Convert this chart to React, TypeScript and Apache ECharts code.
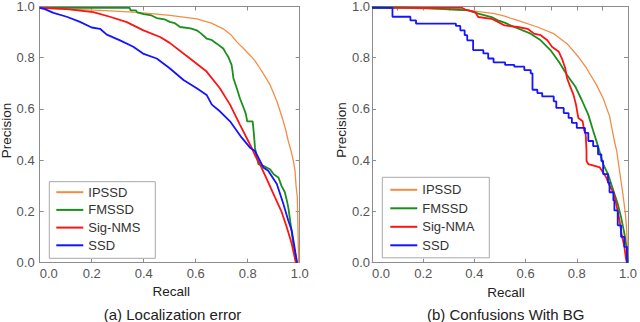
import React, { useEffect, useRef } from "react";
import * as echarts from "echarts";

// ---- Data: (a) Localization error  [recall, precision]
const locIPSSD = [[0,0.995],[0.1,0.99],[0.232,0.985],[0.36,0.978],[0.45,0.97],[0.501,0.965],[0.604,0.952],[0.66,0.935],[0.706,0.913],[0.735,0.89],[0.758,0.862],[0.785,0.835],[0.809,0.81],[0.83,0.785],[0.847,0.759],[0.866,0.728],[0.886,0.694],[0.9,0.66],[0.912,0.63],[0.925,0.59],[0.937,0.552],[0.947,0.515],[0.956,0.475],[0.966,0.44],[0.975,0.4],[0.982,0.36],[0.986,0.3],[0.991,0.255],[0.993,0.15],[0.995,0.05],[0.996,0]];
const locFMSSD = [[0,0.995],[0.345,0.995],[0.35,0.985],[0.37,0.985],[0.375,0.977],[0.4,0.97],[0.43,0.965],[0.45,0.955],[0.48,0.95],[0.5,0.94],[0.52,0.935],[0.54,0.92],[0.58,0.915],[0.604,0.907],[0.62,0.895],[0.642,0.875],[0.66,0.87],[0.681,0.855],[0.706,0.836],[0.715,0.82],[0.725,0.804],[0.738,0.772],[0.742,0.745],[0.745,0.72],[0.758,0.681],[0.77,0.642],[0.786,0.6],[0.793,0.58],[0.798,0.552],[0.819,0.552],[0.824,0.501],[0.828,0.449],[0.835,0.41],[0.841,0.385],[0.86,0.378],[0.886,0.365],[0.9,0.345],[0.918,0.333],[0.93,0.3],[0.943,0.275],[0.95,0.245],[0.956,0.217],[0.965,0.152],[0.975,0.075],[0.988,0.01],[0.99,0]];
const locSigNMS = [[0,0.995],[0.104,0.99],[0.206,0.978],[0.27,0.96],[0.335,0.939],[0.399,0.907],[0.463,0.881],[0.5,0.858],[0.578,0.797],[0.642,0.746],[0.693,0.681],[0.732,0.617],[0.77,0.539],[0.802,0.475],[0.815,0.449],[0.83,0.415],[0.847,0.385],[0.873,0.327],[0.905,0.255],[0.931,0.197],[0.95,0.139],[0.969,0.075],[0.982,0.015],[0.985,0]];
const locSSD = [[0,0.995],[0.02,0.99],[0.053,0.975],[0.104,0.96],[0.155,0.94],[0.2,0.918],[0.232,0.913],[0.258,0.89],[0.309,0.868],[0.36,0.843],[0.4,0.815],[0.45,0.797],[0.5,0.759],[0.553,0.713],[0.604,0.681],[0.642,0.655],[0.662,0.617],[0.693,0.591],[0.732,0.552],[0.777,0.488],[0.809,0.449],[0.828,0.436],[0.86,0.372],[0.879,0.359],[0.912,0.307],[0.937,0.23],[0.956,0.165],[0.969,0.127],[0.979,0.068],[0.988,0.01],[0.99,0]];

// ---- Data: (b) Confusions With BG
const bgIPSSD = [[0,0.998],[0.249,0.99],[0.377,0.985],[0.479,0.972],[0.518,0.962],[0.569,0.946],[0.646,0.92],[0.71,0.894],[0.762,0.855],[0.806,0.804],[0.838,0.759],[0.877,0.694],[0.903,0.642],[0.928,0.572],[0.938,0.52],[0.947,0.475],[0.956,0.436],[0.967,0.359],[0.98,0.269],[0.99,0.191],[0.995,0.127],[0.998,0.05],[1.0,0]];
const bgFMSSD = [[0,0.998],[0.2,0.995],[0.377,0.985],[0.415,0.972],[0.467,0.959],[0.492,0.946],[0.518,0.937],[0.556,0.92],[0.62,0.894],[0.659,0.868],[0.697,0.83],[0.73,0.784],[0.762,0.733],[0.794,0.688],[0.819,0.636],[0.845,0.578],[0.864,0.515],[0.883,0.455],[0.903,0.385],[0.922,0.346],[0.941,0.288],[0.96,0.23],[0.973,0.178],[0.986,0.114],[0.996,0.049],[1.0,0]];
const bgSigNMA = [[0,0.995],[0.351,0.995],[0.364,0.988],[0.403,0.978],[0.415,0.959],[0.467,0.952],[0.492,0.94],[0.518,0.926],[0.569,0.92],[0.608,0.913],[0.633,0.894],[0.659,0.888],[0.685,0.868],[0.704,0.842],[0.73,0.823],[0.742,0.797],[0.755,0.759],[0.762,0.72],[0.774,0.688],[0.787,0.656],[0.797,0.617],[0.806,0.565],[0.823,0.552],[0.828,0.52],[0.835,0.5],[0.838,0.436],[0.838,0.397],[0.845,0.385],[0.87,0.378],[0.89,0.372],[0.903,0.352],[0.915,0.333],[0.928,0.301],[0.943,0.275],[0.954,0.23],[0.967,0.165],[0.976,0.107],[0.986,0.062],[0.992,0.017],[0.996,0]];
const bgSSD = [[0,0.995],[0.08,0.96],[0.15,0.946],[0.172,0.933],[0.328,0.924],[0.345,0.907],[0.362,0.888],[0.372,0.868],[0.395,0.83],[0.435,0.817],[0.454,0.797],[0.475,0.782],[0.52,0.772],[0.556,0.765],[0.595,0.752],[0.62,0.739],[0.627,0.675],[0.646,0.662],[0.665,0.649],[0.71,0.63],[0.72,0.604],[0.749,0.584],[0.768,0.565],[0.781,0.546],[0.8,0.526],[0.832,0.507],[0.845,0.475],[0.864,0.455],[0.883,0.423],[0.896,0.397],[0.903,0.346],[0.922,0.313],[0.928,0.275],[0.943,0.243],[0.947,0.204],[0.96,0.146],[0.973,0.101],[0.986,0.062],[0.996,0]];

const legendLeft = ["IPSSD", "FMSSD", "Sig-NMS", "SSD"];
const legendRight = ["IPSSD", "FMSSD", "Sig-NMA", "SSD"];
const captions = ["(a) Localization error", "(b) Confusions With BG"];
const axisTitles = { x: "Recall", y: "Precision" };

const FONT = "'Liberation Sans', Arial, sans-serif";
const COLORS: Record<string, string> = {
  IPSSD: "#f38d45",
  FMSSD: "#1b8f1b",
  "Sig-NMS": "#ff1414",
  "Sig-NMA": "#ff1414",
  SSD: "#1414ff",
};
const FRAME = "#8c8c8c";

function xAx(grid: number, pos: "bottom" | "top", interval: number, showLabel: boolean) {
  return {
    gridIndex: grid,
    type: "value",
    min: 0,
    max: 1,
    interval,
    position: pos,
    axisLine: { show: true, onZero: false, lineStyle: { color: FRAME, width: 1 } },
    axisTick: { show: true, inside: true, length: 4, lineStyle: { color: FRAME } },
    axisLabel: {
      show: showLabel,
      formatter: (v: number) => v.toFixed(1),
      color: "#555",
      fontSize: 13,
      fontFamily: FONT,
      margin: 4,
      alignMinLabel: "left",
    },
    splitLine: { show: false },
  };
}

function yAx(grid: number, pos: "left" | "right", showLabel: boolean, margin: number) {
  return {
    gridIndex: grid,
    type: "value",
    min: 0,
    max: 1,
    interval: 0.2,
    position: pos,
    axisLine: { show: true, onZero: false, lineStyle: { color: FRAME, width: 1 } },
    axisTick: { show: true, inside: true, length: 4, lineStyle: { color: FRAME } },
    axisLabel: {
      show: showLabel,
      formatter: (v: number) => v.toFixed(1),
      color: "#555",
      fontSize: 13,
      fontFamily: FONT,
      margin,
    },
    splitLine: { show: false },
  };
}

function line(name: string, data: number[][], axis: number, step?: string) {
  return {
    type: "line",
    name,
    data,
    xAxisIndex: axis,
    yAxisIndex: axis,
    symbol: "none",
    step: step || false,
    z: name === "IPSSD" ? 2 : 3,
    lineStyle: { color: COLORS[name], width: name === "IPSSD" ? 1.3 : 1.8 },
    itemStyle: { color: COLORS[name] },
  };
}

function txt(text: string, x: number, y: number, size: number, rot = 0) {
  return {
    type: "text",
    x,
    y,
    rotation: rot,
    style: {
      text,
      x: 0,
      y: 0,
      fill: "#222",
      fontSize: size,
      fontFamily: FONT,
      textAlign: "center",
      textVerticalAlign: "middle",
      align: "center",
      verticalAlign: "middle",
    },
  };
}

export default function App() {
  const ref = useRef<HTMLDivElement>(null);
  useEffect(() => {
    document.body.style.margin = "0";
    if (!ref.current) return;
    const chart = echarts.init(ref.current, null, { renderer: "svg" });
    const legendBase = {
      orient: "vertical",
      itemWidth: 27,
      itemHeight: 12,
      borderColor: "#a8a8a8",
      borderWidth: 1,
      borderRadius: 0,
      backgroundColor: "#fff",
      selectedMode: false,
      itemStyle: { opacity: 0 },
      textStyle: { fontSize: 13, color: "#333", fontFamily: FONT },
    };
    chart.setOption({
      animation: false,
      grid: [
        { left: 39.7, top: 4.3, width: 260, height: 258.4 },
        { left: 372, top: 4.3, width: 260, height: 258.4 },
      ],
      xAxis: [
        xAx(0, "bottom", 0.2, true),
        xAx(0, "top", 0.2, false),
        xAx(1, "bottom", 0.2, true),
        xAx(1, "top", 0.1, false),
      ],
      yAxis: [
        yAx(0, "left", true, 5),
        yAx(0, "right", false, 5),
        yAx(1, "left", true, 2),
        yAx(1, "right", false, 5),
      ],
      legend: [
        { ...legendBase, data: legendLeft, left: 49.3, top: 181.7, itemGap: 4.7, padding: [4, 15, 6.5, 6] },
        { ...legendBase, data: legendRight, left: 382.3, top: 177.3, itemGap: 5.5, padding: [6, 15, 6, 7] },
      ],
      series: [
        line("IPSSD", locIPSSD, 0),
        line("FMSSD", locFMSSD, 0),
        line("Sig-NMS", locSigNMS, 0),
        line("SSD", locSSD, 0),
        line("IPSSD", bgIPSSD, 2),
        line("FMSSD", bgFMSSD, 2),
        line("Sig-NMA", bgSigNMA, 2),
        line("SSD", bgSSD, 2, "end"),
      ],
      graphic: [
        txt(axisTitles.y, 6.7, 130.5, 13.5, Math.PI / 2),
        txt(axisTitles.y, 341.7, 130, 13.5, Math.PI / 2),
        txt(axisTitles.x, 171.3, 291.5, 13.5),
        txt(axisTitles.x, 506, 292, 13.5),
        txt(captions[0], 172.5, 314, 15),
        txt(captions[1], 505.7, 314, 15),
      ],
    });
    return () => chart.dispose();
  }, []);
  return <div ref={ref} style={{ width: 640, height: 322 }} />;
}
